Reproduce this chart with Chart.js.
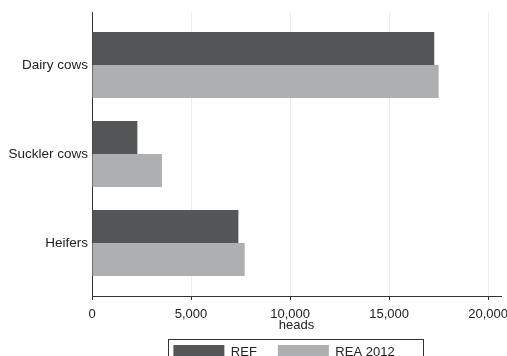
<!DOCTYPE html>
<html>
<head>
<meta charset="utf-8">
<script src="https://cdn.jsdelivr.net/npm/chart.js@4/dist/chart.umd.min.js"></script>
<style>
  html, body { margin: 0; padding: 0; background: #fff; overflow: hidden; }
  canvas { display: block; }
</style>
</head>
<body>
<canvas id="herdChart" width="507" height="370"></canvas>
<script>
// categories and series
const categories = ['Dairy cows', 'Suckler cows', 'Heifers'];
const seriesNames = ['REF', 'REA 2012'];
const refValues = [17280, 2290, 7390];
const reaValues = [17500, 3530, 7710];
const xTickValues = [0, 5000, 10000, 15000, 20000];
const xMax = 20650;

const FONT = "'Liberation Sans', Arial, Helvetica, sans-serif";

// box round the legend, like the Stata one
const legendFrame = {
    id: 'legendFrame',
    afterLayout(chart) {
        // legend sits a bit left of the plot centre
        chart.legend.right -= 25;
    },
    afterDraw(chart) {
        const hb = chart.legend.legendHitBoxes;
        if (!hb || !hb.length) return;
        const last = hb[hb.length - 1];
        const left = Math.round(hb[0].left - 5) + 0.5;
        const right = Math.round(last.left + last.width + 28) + 0.5;
        const top = Math.round(hb[0].top - 6) + 0.5;
        const ctx = chart.ctx;
        ctx.save();
        ctx.strokeStyle = '#333';
        ctx.lineWidth = 1;
        ctx.strokeRect(left, top, right - left, 60);
        ctx.restore();
    }
};

const toPoints = (vals) => vals.map((v, i) => ({ x: v, y: i }));

new Chart(document.getElementById('herdChart').getContext('2d'), {
    type: 'bar',
    data: {
        datasets: [
            { label: seriesNames[0], data: toPoints(refValues), backgroundColor: '#555658', borderWidth: 0 },
            { label: seriesNames[1], data: toPoints(reaValues), backgroundColor: '#aeafb1', borderWidth: 0 }
        ]
    },
    options: {
        indexAxis: 'y',
        responsive: false,
        animation: false,
        devicePixelRatio: 1,
        categoryPercentage: 0.742,
        barPercentage: 1,
        layout: { padding: { top: 12, right: 6, left: 0, bottom: 0 } },
        scales: {
            x: {
                type: 'linear',
                min: 0,
                max: xMax,
                grid: { color: '#ececec', lineWidth: 1, tickLength: 4, tickColor: '#333' },
                border: { color: '#333', width: 1 },
                ticks: {
                    padding: 7,
                    maxRotation: 0,
                    autoSkip: false,
                    color: '#222',
                    font: { family: FONT, size: 13 },
                    callback: (v) => v.toLocaleString('en-US')
                },
                title: {
                    display: true,
                    text: 'heads',
                    color: '#222',
                    font: { family: FONT, size: 13 },
                    padding: { top: 0, bottom: -9 }
                },
                afterBuildTicks: (s) => { s.ticks = xTickValues.map(v => ({ value: v })); },
                afterFit: (s) => { s.paddingLeft = 0; s.paddingRight = 0; s.height = 28; }
            },
            y: {
                type: 'linear',
                reverse: true,
                offset: false,
                min: -0.595,
                max: categories.length - 1 + 0.595,
                grid: { display: false, drawTicks: false, offset: false },
                border: { color: '#333', width: 1 },
                ticks: {
                    padding: 4,
                    autoSkip: false,
                    color: '#222',
                    font: { family: FONT, size: 13.5 },
                    callback: (v) => categories[v]
                },
                afterBuildTicks: (s) => { s.ticks = categories.map((c, i) => ({ value: i })); },
                afterFit: (s) => { s.width = 92; s.paddingTop = 0; s.paddingBottom = 0; }
            }
        },
        plugins: {
            legend: {
                position: 'bottom',
                fullSize: false,
                labels: {
                    boxWidth: 51,
                    boxHeight: 15,
                    padding: 21,
                    color: '#222',
                    font: { family: FONT, size: 13 }
                }
            },
            tooltip: { enabled: false }
        }
    },
    plugins: [legendFrame]
});
</script>
</body>
</html>
